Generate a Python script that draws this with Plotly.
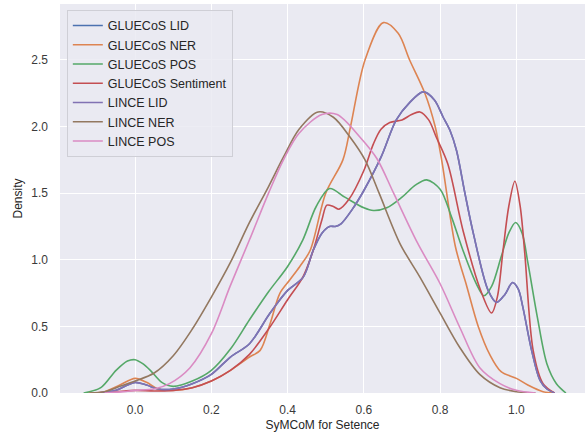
import plotly.graph_objects as go

# ---- data (KDE curves) ----
series_names = ["GLUECoS LID", "GLUECoS NER", "GLUECoS POS", "GLUECoS Sentiment",
                "LINCE LID", "LINCE NER", "LINCE POS"]
series_colors = ["#4C72B0", "#DD8452", "#55A868", "#C44E52", "#8172B3", "#937860", "#DA8BC3"]

lince_lid_x = [-0.1, -0.05, -0.02, 0.0, 0.03, 0.06, 0.1, 0.15, 0.2, 0.25, 0.3, 0.354, 0.4, 0.441,
               0.467, 0.49, 0.51, 0.525, 0.54, 0.57, 0.6, 0.645, 0.685, 0.72, 0.756, 0.785, 0.808,
               0.826, 0.843, 0.865, 0.887, 0.926, 0.948, 0.97, 0.99, 1.005, 1.017, 1.04, 1.062, 1.08, 1.1]
lince_lid_y = [0, 0.02, 0.06, 0.08, 0.06, 0.03, 0.03, 0.07, 0.14, 0.27, 0.37, 0.6, 0.77, 0.87,
               1.07, 1.2, 1.25, 1.25, 1.27, 1.38, 1.52, 1.77, 2.05, 2.18, 2.26, 2.2, 2.07,
               1.97, 1.82, 1.5, 1.2, 0.77, 0.68, 0.74, 0.83, 0.78, 0.645, 0.32, 0.094, 0.03, 0.0]

# GLUECoS LID is fully hidden under LINCE LID in the reference
gluecos_lid_x = [-0.1, -0.05, -0.02, 0.0, 0.03, 0.06, 0.1, 0.15, 0.2, 0.25, 0.3, 0.354, 0.4, 0.441,
                 0.467, 0.49, 0.51, 0.525, 0.54, 0.57, 0.6, 0.645, 0.685, 0.72, 0.756, 0.785, 0.808,
                 0.826, 0.843, 0.865, 0.887, 0.926, 0.948, 0.97, 0.99, 1.005, 1.017, 1.04, 1.062, 1.08, 1.1]
gluecos_lid_y = [0, 0.02, 0.06, 0.08, 0.06, 0.03, 0.03, 0.07, 0.14, 0.27, 0.37, 0.6, 0.77, 0.87,
                 1.07, 1.2, 1.25, 1.25, 1.27, 1.38, 1.52, 1.77, 2.05, 2.18, 2.26, 2.2, 2.07,
                 1.97, 1.82, 1.5, 1.2, 0.77, 0.68, 0.74, 0.83, 0.78, 0.645, 0.32, 0.094, 0.03, 0.0]

gluecos_ner_x = [-0.13, -0.08, -0.04, 0.0, 0.03, 0.06, 0.1, 0.15, 0.2, 0.25, 0.3, 0.328, 0.354,
                 0.38, 0.406, 0.432, 0.459, 0.5, 0.545, 0.565, 0.603, 0.651, 0.69, 0.72, 0.76,
                 0.787, 0.804, 0.84, 0.87, 0.9, 0.93, 0.96, 1.0, 1.03, 1.07, 1.1]
gluecos_ner_y = [0, 0.01, 0.06, 0.11, 0.08, 0.03, 0.02, 0.04, 0.09, 0.17, 0.27, 0.32, 0.52,
                 0.75, 0.85, 0.95, 1.07, 1.5, 1.75, 2.0, 2.5, 2.78, 2.7, 2.5, 2.25,
                 2.0, 1.75, 1.1, 0.8, 0.5, 0.29, 0.16, 0.11, 0.06, 0.01, 0.0]

gluecos_pos_x = [-0.135, -0.09, -0.05, -0.02, 0.0, 0.02, 0.04, 0.07, 0.1, 0.15, 0.2, 0.25, 0.3,
                 0.35, 0.4, 0.44, 0.475, 0.51, 0.55, 0.6, 0.625, 0.66, 0.7, 0.735, 0.765, 0.8,
                 0.83, 0.86, 0.895, 0.915, 0.935, 0.96, 0.98, 0.998, 1.015, 1.03, 1.055, 1.08,
                 1.105, 1.13]
gluecos_pos_y = [0, 0.04, 0.17, 0.24, 0.25, 0.22, 0.17, 0.08, 0.05, 0.09, 0.17, 0.33, 0.55,
                 0.76, 0.95, 1.15, 1.4, 1.535, 1.47, 1.39, 1.37, 1.39, 1.47, 1.56, 1.6, 1.53,
                 1.32, 1.07, 0.82, 0.73, 0.8, 1.02, 1.2, 1.28, 1.2, 0.98, 0.57, 0.22,
                 0.07, 0.0]

gluecos_sent_x = [-0.1, -0.05, 0.0, 0.05, 0.1, 0.15, 0.2, 0.25, 0.3, 0.35, 0.4, 0.44, 0.467,
                  0.49, 0.503, 0.52, 0.535, 0.56, 0.6, 0.625, 0.645, 0.668, 0.7, 0.725, 0.747,
                  0.77, 0.79, 0.82, 0.86, 0.905, 0.935, 0.95, 0.965, 0.98, 0.996, 1.01, 1.022,
                  1.044, 1.07, 1.1]
gluecos_sent_y = [0, 0.01, 0.02, 0.015, 0.02, 0.04, 0.09, 0.17, 0.29, 0.48, 0.7, 0.87, 1.07,
                  1.3, 1.41, 1.4, 1.38, 1.45, 1.67, 1.87, 1.98, 2.03, 2.05, 2.09, 2.11,
                  2.05, 1.92, 1.72, 1.22, 0.78, 0.6, 0.72, 1.07, 1.4, 1.59, 1.4, 1.05,
                  0.32, 0.07, 0.0]

lince_ner_x = [-0.12, -0.08, -0.04, 0.0, 0.05, 0.1, 0.15, 0.2, 0.25, 0.3, 0.35, 0.389, 0.43,
               0.48, 0.52, 0.564, 0.603, 0.64, 0.695, 0.747, 0.8, 0.852, 0.904, 0.957, 1.0, 1.05]
lince_ner_y = [0, 0.01, 0.05, 0.09, 0.15, 0.28, 0.48, 0.72, 0.98, 1.28, 1.55, 1.77, 1.98,
               2.11, 2.07, 1.92, 1.75, 1.5, 1.12, 0.87, 0.6, 0.34, 0.14, 0.04, 0.01, 0.0]

lince_pos_x = [-0.08, -0.03, 0.0, 0.05, 0.09, 0.144, 0.2, 0.249, 0.3, 0.35, 0.389, 0.43, 0.49,
               0.53, 0.59, 0.634, 0.678, 0.74, 0.8, 0.852, 0.904, 0.957, 1.0, 1.05]
lince_pos_y = [0, 0.01, 0.02, 0.03, 0.07, 0.19, 0.445, 0.8, 1.15, 1.5, 1.75, 1.95, 2.09,
               2.09, 1.92, 1.76, 1.5, 1.13, 0.82, 0.49, 0.19, 0.07, 0.02, 0.0]

x_ticks = [0.0, 0.2, 0.4, 0.6, 0.8, 1.0]
x_tick_labels = ["0.0", "0.2", "0.4", "0.6", "0.8", "1.0"]
y_ticks = [0.0, 0.5, 1.0, 1.5, 2.0, 2.5]
y_tick_labels = ["0.0", "0.5", "1.0", "1.5", "2.0", "2.5"]

all_x = [gluecos_lid_x, gluecos_ner_x, gluecos_pos_x, gluecos_sent_x,
         lince_lid_x, lince_ner_x, lince_pos_x]
all_y = [gluecos_lid_y, gluecos_ner_y, gluecos_pos_y, gluecos_sent_y,
         lince_lid_y, lince_ner_y, lince_pos_y]

FONT = "Liberation Sans, Arial, sans-serif"
TXT = "#3a3a3a"

fig = go.Figure()
for name, color, xs, ys in zip(series_names, series_colors, all_x, all_y):
    fig.add_trace(go.Scatter(
        x=xs, y=ys, mode="lines", name=name,
        line=dict(color=color, width=1.6, shape="spline", smoothing=0.9),
    ))

fig.update_layout(
    width=585, height=435,
    margin=dict(l=60, r=0, t=4, b=42),
    paper_bgcolor="white",
    plot_bgcolor="#EAEAF2",
    font=dict(family=FONT, size=12, color=TXT),
    showlegend=True,
    legend=dict(
        x=0.013, y=0.985, xanchor="left", yanchor="top",
        bgcolor="rgba(234,234,242,0.85)", bordercolor="#cfcfd6", borderwidth=1,
        font=dict(family=FONT, size=12.5, color="#262626"),
        tracegroupgap=0, itemwidth=30,
    ),
    xaxis=dict(
        range=[-0.197, 1.18], tickvals=x_ticks, ticktext=x_tick_labels,
        showgrid=True, gridcolor="white", gridwidth=1.3, zeroline=False,
        showline=False, ticks="", tickfont=dict(size=12, color=TXT),
        ticklabelstandoff=8,
        title=dict(text="SyMCoM for Setence", standoff=4, font=dict(size=12, color="#262626")),
    ),
    yaxis=dict(
        range=[0, 2.92], tickvals=y_ticks, ticktext=y_tick_labels,
        showgrid=True, gridcolor="white", gridwidth=1.3, zeroline=False,
        showline=False, ticks="", tickfont=dict(size=12, color=TXT),
        ticklabelstandoff=11,
        title=dict(text="Density", standoff=6, font=dict(size=12, color="#262626")),
    ),
)

fig.write_html("out.html", config={"displayModeBar": False},
               post_script="document.body.style.margin='0px';")
